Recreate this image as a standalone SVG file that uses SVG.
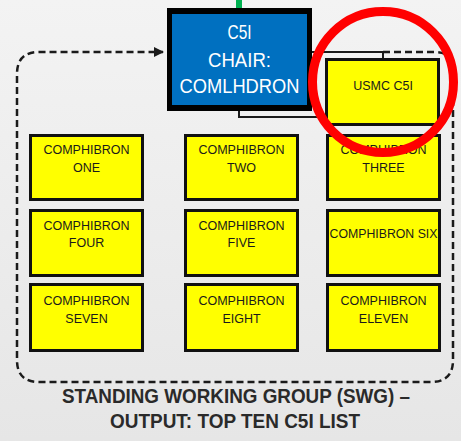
<svg xmlns="http://www.w3.org/2000/svg" width="461" height="441" viewBox="0 0 461 441">
<defs>
<linearGradient id="bg" x1="0" y1="0" x2="0" y2="1">
<stop offset="0" stop-color="#f3f3f3"/>
<stop offset="1" stop-color="#e6e6e6"/>
</linearGradient>
<marker id="arr" viewBox="0 0 10 10" refX="9" refY="5" markerWidth="4" markerHeight="4" orient="auto" markerUnits="strokeWidth">
<path d="M0,0 L10,5 L0,10 z" fill="#1a1a1a"/>
</marker>
<style>
.yb{fill:#ffff00;stroke:#111;stroke-width:3}
.yt{font-family:"Liberation Sans",Arial,sans-serif;font-size:12.5px;fill:#1a1a1a;text-anchor:middle}
.wt{font-family:"Liberation Sans",Arial,sans-serif;font-size:21px;fill:#ffffff;text-anchor:middle}
.cap{font-family:"Liberation Sans",Arial,sans-serif;font-size:20px;font-weight:bold;fill:#2a2a2a;text-anchor:middle}
.dash{fill:none;stroke:#1a1a1a;stroke-width:2.5;stroke-dasharray:7 4}
.solid{fill:none;stroke:#1a1a1a;stroke-width:2}
</style>
</defs>
<rect x="0" y="0" width="461" height="441" fill="url(#bg)"/>

<g id="connectors">
<path class="dash" d="M383,52 H435 Q453,52 453,70 V360 Q453,382 431,382 H39 Q17,382 17,360 V74 Q17,52 39,52 H163" marker-end="url(#arr)"/>
<path class="solid" d="M312,52 H383 V58"/>
<path class="solid" d="M239,111 V117 H326"/>
<path d="M236,0 H242 V10 L239,14 L236,10 Z" fill="#00b050"/>
</g>

<g id="chair">
<rect x="167" y="8" width="145" height="103" fill="#000"/>
<rect x="172" y="14" width="135" height="91" fill="#0070c0"/>
<text class="wt" x="239.5" y="39" textLength="24" lengthAdjust="spacingAndGlyphs">C5I</text>
<text class="wt" x="239.5" y="67" textLength="63" lengthAdjust="spacingAndGlyphs">CHAIR:</text>
<text class="wt" x="239.5" y="93" textLength="120" lengthAdjust="spacingAndGlyphs">COMLHDRON</text>
</g>

<g id="usmc">
<rect class="yb" x="326.5" y="59.5" width="112" height="65"/>
<text class="yt" x="383" y="90">USMC C5I</text>
</g>

<g id="one"><rect class="yb" x="30.5" y="135.5" width="112" height="64"/>
<text class="yt" x="86.5" y="154">COMPHIBRON</text><text class="yt" x="86.5" y="172">ONE</text></g>
<g id="two"><rect class="yb" x="185.5" y="135.5" width="112" height="64"/>
<text class="yt" x="241.5" y="154">COMPHIBRON</text><text class="yt" x="241.5" y="172">TWO</text></g>
<g id="three"><rect class="yb" x="327.5" y="135.5" width="112" height="64"/>
<text class="yt" x="383.5" y="154">COMPHIBRON</text><text class="yt" x="383.5" y="172">THREE</text></g>

<g id="four"><rect class="yb" x="30.5" y="210.5" width="112" height="65"/>
<text class="yt" x="86.5" y="230">COMPHIBRON</text><text class="yt" x="86.5" y="247">FOUR</text></g>
<g id="five"><rect class="yb" x="185.5" y="210.5" width="112" height="65"/>
<text class="yt" x="241.5" y="230">COMPHIBRON</text><text class="yt" x="241.5" y="247">FIVE</text></g>
<g id="six"><rect class="yb" x="327.5" y="210.5" width="112" height="65"/>
<text class="yt" x="383.5" y="238" textLength="108" lengthAdjust="spacingAndGlyphs">COMPHIBRON SIX</text></g>

<g id="seven"><rect class="yb" x="30.5" y="284.5" width="112" height="66"/>
<text class="yt" x="86.5" y="305">COMPHIBRON</text><text class="yt" x="86.5" y="323">SEVEN</text></g>
<g id="eight"><rect class="yb" x="185.5" y="284.5" width="112" height="66"/>
<text class="yt" x="241.5" y="305">COMPHIBRON</text><text class="yt" x="241.5" y="323">EIGHT</text></g>
<g id="eleven"><rect class="yb" x="327.5" y="284.5" width="112" height="66"/>
<text class="yt" x="383.5" y="305">COMPHIBRON</text><text class="yt" x="383.5" y="323">ELEVEN</text></g>

<g id="caption">
<text class="cap" x="236" y="403" textLength="348" lengthAdjust="spacingAndGlyphs">STANDING WORKING GROUP (SWG) –</text>
<text class="cap" x="235" y="428" textLength="250" lengthAdjust="spacingAndGlyphs">OUTPUT: TOP TEN C5I LIST</text>
</g>

<circle id="highlight" cx="383" cy="82" r="70.5" fill="none" stroke="#ff0000" stroke-width="9"/>
</svg>
